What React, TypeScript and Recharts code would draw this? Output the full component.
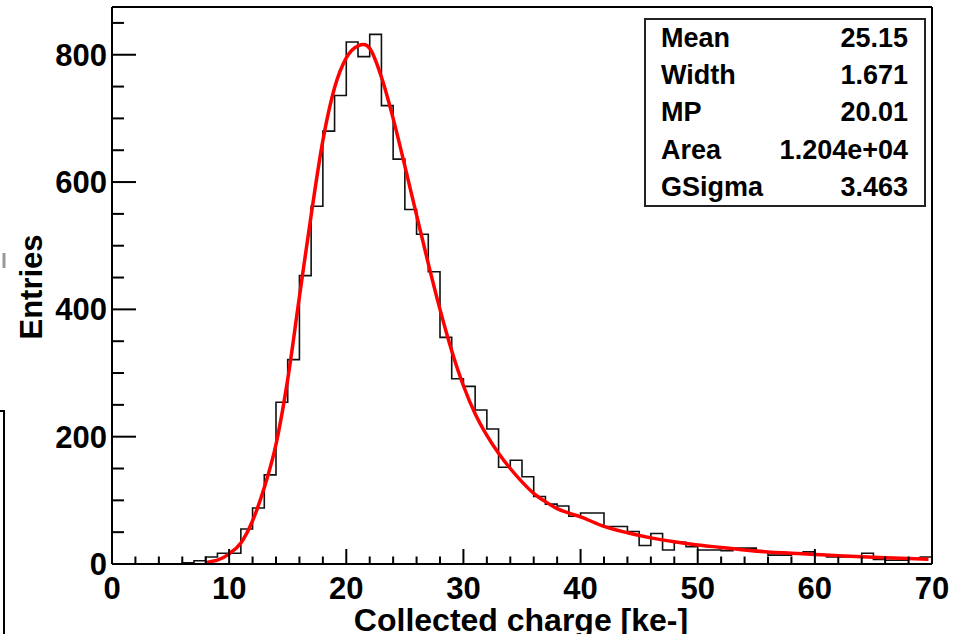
import React from 'react';
import { ComposedChart, Line, XAxis, YAxis, ReferenceLine } from 'recharts';

// Histogram: low edge of each 1 ke- bin and its count
const binLow = [
  0, 1, 2, 3, 4, 5, 6, 7, 8, 9,
  10, 11, 12, 13, 14, 15, 16, 17, 18, 19,
  20, 21, 22, 23, 24, 25, 26, 27, 28, 29,
  30, 31, 32, 33, 34, 35, 36, 37, 38, 39,
  40, 41, 42, 43, 44, 45, 46, 47, 48, 49,
  50, 51, 52, 53, 54, 55, 56, 57, 58, 59,
  60, 61, 62, 63, 64, 65, 66, 67, 68, 69,
];
const binCounts = [
  0, 0, 0, 0, 0, 0, 2, 5, 11, 17,
  17, 55, 88, 140, 254, 321, 453, 562, 680, 736,
  820, 797, 832, 720, 636, 557, 518, 459, 356, 291,
  279, 242, 212, 152, 163, 137, 106, 94, 91, 75,
  80, 80, 59, 59, 51, 29, 48, 22, 34, 27,
  22, 22, 21, 25, 25, 19, 14, 14, 16, 19,
  14, 11, 11, 11, 17, 7, 6, 6, 9, 11,
];
const histUpperEdge = 70;

// Fit curve (Landau (x) Gauss)
const fitX = [
  8, 8.5, 9, 10, 11, 12, 13, 14, 15, 16, 17, 18, 19, 20, 21, 21.5, 22, 23, 24, 25,
  26, 27, 28, 29, 30, 31, 32, 33, 34, 35, 36, 37, 38, 39, 40, 42, 44, 46, 48, 50,
  52, 54, 56, 58, 60, 62, 64, 66, 68, 69.7,
];
const fitY = [
  2, 4, 6, 16, 33, 68, 120, 188, 290, 420, 548, 665, 748, 795, 814, 816, 810, 765, 700, 625,
  548, 472, 400, 335, 280, 236, 202, 174, 150, 129, 111, 98, 87, 80, 74, 59, 49, 41, 35, 30,
  26, 22, 19, 17, 15, 13, 11.5, 10, 8.5, 7.5,
];

const xTicks = [0, 2, 4, 6, 8, 10, 12, 14, 16, 18, 20, 22, 24, 26, 28, 30, 32, 34, 36, 38, 40, 42, 44, 46, 48, 50, 52, 54, 56, 58, 60, 62, 64, 66, 68, 70];
const yTicks = [0, 50, 100, 150, 200, 250, 300, 350, 400, 450, 500, 550, 600, 650, 700, 750, 800, 850];

const statLabels = ['Mean', 'Width', 'MP', 'Area', 'GSigma'];
const statValues = ['25.15', '1.671', '20.01', '1.204e+04', '3.463'];

const xTitle = 'Collected charge [ke-]';
const yTitle = 'Entries';

const FONT = '"Liberation Sans", Arial, Helvetica, sans-serif';

const histData = [
  ...binLow.map((x, i) => ({ x, h: binCounts[i] })),
  { x: histUpperEdge, h: binCounts[binCounts.length - 1] },
];
const fitData = fitX.map((x, i) => ({ x, f: fitY[i] }));

const XTick = (props: any) => {
  const { x, y, payload } = props;
  const v = payload.value;
  const major = v % 10 === 0;
  return (
    <g>
      <line x1={x} x2={x} y1={y} y2={y - (major ? 15 : 7.5)} stroke="#000" strokeWidth={2} />
      {major && (
        <text x={x} y={y + 35} textAnchor="middle" fontSize={31} fontWeight="bold" fontFamily={FONT} fill="#000">
          {v}
        </text>
      )}
    </g>
  );
};

const YTick = (props: any) => {
  const { x, y, payload } = props;
  const v = payload.value;
  const major = v % 200 === 0;
  return (
    <g>
      <line x1={x} x2={x + (major ? 24 : 12)} y1={y} y2={y} stroke="#000" strokeWidth={2} />
      {major && (
        <text x={x - 5} y={y + 11} textAnchor="end" fontSize={31} fontWeight="bold" fontFamily={FONT} fill="#000">
          {v}
        </text>
      )}
    </g>
  );
};

export default function App() {
  return (
    <div style={{ position: 'absolute', left: 0, top: 0, width: 959, height: 634, overflow: 'hidden', background: '#fff' }}>
      <ComposedChart width={959} height={634} margin={{ top: 7, right: 27, bottom: 0, left: 12 }}>
        <XAxis
          type="number"
          dataKey="x"
          domain={[0, 70]}
          ticks={xTicks}
          interval={0}
          allowDataOverflow
          height={70}
          tickLine={false}
          tickSize={0}
          tickMargin={0}
          axisLine={{ stroke: '#000', strokeWidth: 2 }}
          tick={<XTick />}
        />
        <YAxis
          type="number"
          domain={[0, 875]}
          ticks={yTicks}
          interval={0}
          allowDataOverflow
          width={100}
          tickLine={false}
          tickSize={0}
          tickMargin={0}
          axisLine={{ stroke: '#000', strokeWidth: 2 }}
          tick={<YTick />}
        />
        <ReferenceLine y={875} stroke="#000" strokeWidth={2} />
        <ReferenceLine x={70} stroke="#000" strokeWidth={2} />
        <Line
          data={histData}
          dataKey="h"
          type="stepAfter"
          stroke="#111"
          strokeWidth={1.6}
          dot={false}
          activeDot={false}
          isAnimationActive={false}
        />
        <Line
          data={fitData}
          dataKey="f"
          type="monotone"
          stroke="#ff0000"
          strokeWidth={3.5}
          dot={false}
          activeDot={false}
          isAnimationActive={false}
        />
      </ComposedChart>
      <svg width={959} height={634} style={{ position: 'absolute', left: 0, top: 0, pointerEvents: 'none' }}>
        <text x={42} y={287} transform="rotate(-90 42 287)" textAnchor="middle" fontSize={31} fontWeight="bold" fontFamily={FONT} fill="#000">
          {yTitle}
        </text>
        <text x={521} y={631} textAnchor="middle" fontSize={32} fontWeight="bold" fontFamily={FONT} fill="#000">
          {xTitle}
        </text>
        <rect x={645} y={19} width={280} height={187} fill="#fff" stroke="#222" strokeWidth={2} />
        {statLabels.map((s, i) => (
          <text key={s} x={661} y={47 + i * 37.2} fontSize={27} fontWeight="bold" fontFamily={FONT} fill="#000">
            {s}
          </text>
        ))}
        {statValues.map((s, i) => (
          <text key={s} x={908} y={47 + i * 37.2} textAnchor="end" fontSize={27} fontWeight="bold" fontFamily={FONT} fill="#000">
            {s}
          </text>
        ))}
        <line x1={4} x2={4} y1={253} y2={268} stroke="#999" strokeWidth={3} />
        <line x1={0} x2={5} y1={411} y2={411} stroke="#000" strokeWidth={2} />
        <line x1={4} x2={4} y1={411} y2={634} stroke="#000" strokeWidth={2} />
      </svg>
    </div>
  );
}
